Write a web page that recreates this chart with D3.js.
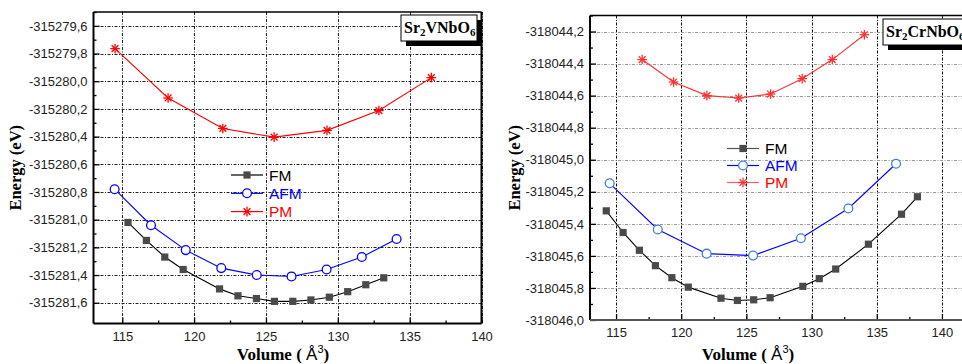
<!DOCTYPE html>
<html>
<head>
<meta charset="utf-8">
<script src="https://cdn.jsdelivr.net/npm/d3@7"></script>
<style>
  body { margin: 0; background: #fff; }
  svg { display: block; }
  .tick text { font-family: "Liberation Sans", Arial, sans-serif; font-size: 13px; fill: #222; }
</style>
</head>
<body>
<div id="chart"></div>
<script>
// ---- data ----
let volFM_L = [115.40, 116.68, 117.96, 119.24, 121.77, 123.05, 124.34, 125.59, 126.87, 128.13, 129.41, 130.69, 131.95, 133.20];
let eFM_L = [-315281.02, -315281.15, -315281.27, -315281.36, -315281.50, -315281.55, -315281.57, -315281.59, -315281.59, -315281.58, -315281.56, -315281.52, -315281.47, -315281.42];
let volAFM_L = [114.47, 117.00, 119.42, 121.89, 124.36, 126.78, 129.22, 131.67, 134.09];
let eAFM_L = [-315280.78, -315281.04, -315281.22, -315281.35, -315281.40, -315281.41, -315281.36, -315281.27, -315281.14];
let volPM_L = [114.50, 118.19, 122.00, 125.57, 129.25, 132.86, 136.51];
let ePM_L = [-315279.765, -315280.121, -315280.341, -315280.404, -315280.355, -315280.212, -315279.974];

let volFM_R = [114.25, 115.54, 116.79, 118.02, 119.28, 120.54, 123.05, 124.31, 125.56, 126.82, 129.33, 130.59, 131.85, 134.36, 136.90, 138.12];
let eFM_R = [-318045.319, -318045.454, -318045.565, -318045.661, -318045.736, -318045.795, -318045.864, -318045.878, -318045.874, -318045.861, -318045.790, -318045.742, -318045.682, -318045.527, -318045.340, -318045.231];
let volAFM_R = [114.51, 118.20, 121.95, 125.51, 129.18, 132.82, 136.48];
let eAFM_R = [-318045.147, -318045.435, -318045.586, -318045.598, -318045.490, -318045.304, -318045.025];
let volPM_R = [117.00, 119.41, 121.97, 124.41, 126.85, 129.28, 131.59, 134.05];
let ePM_R = [-318044.375, -318044.515, -318044.600, -318044.615, -318044.590, -318044.494, -318044.375, -318044.220];

let seriesNames = ["FM", "AFM", "PM"];
let xTicks = [115, 120, 125, 130, 135, 140];
let xMinor = [117.5, 122.5, 127.5, 132.5, 137.5];
let yTicksL = [-315281.6, -315281.4, -315281.2, -315281.0, -315280.8, -315280.6, -315280.4, -315280.2, -315280.0, -315279.8, -315279.6];
let yTicksR = [-318046.0, -318045.8, -318045.6, -318045.4, -318045.2, -318045.0, -318044.8, -318044.6, -318044.4, -318044.2];

let comma = d3.formatLocale({decimal: ",", thousands: "", grouping: [3], currency: ["", ""], minus: "-"}).format(".1f");

let svg = d3.select('#chart')
    .append('svg')
    .attr('width', 962)
    .attr('height', 364);

function asterisk(g, cx, cy, r, color) {
    [0, 45, 90, 135].forEach(function (a) {
        let rad = a * Math.PI / 180;
        g.append('line')
            .attr('x1', cx - r * Math.cos(rad)).attr('y1', cy - r * Math.sin(rad))
            .attr('x2', cx + r * Math.cos(rad)).attr('y2', cy + r * Math.sin(rad))
            .attr('stroke', color).attr('stroke-width', 1.3);
    });
}

function marker(g, kind, cx, cy, c) {
    if (kind == "FM") {
        g.append('rect')
            .attr('x', cx - 3.6).attr('y', cy - 3.6)
            .attr('width', 7.2).attr('height', 7.2)
            .attr('fill', '#4a4a4a');
    } else if (kind == "AFM") {
        g.append('circle')
            .attr('cx', cx).attr('cy', cy).attr('r', 4.4)
            .attr('fill', '#fff')
            .attr('stroke', c.afmMark).attr('stroke-width', 1.3);
    } else {
        asterisk(g, cx, cy, 4.8, c.pm);
    }
}

function drawPanel(p) {
    let g = svg.append('g');
    let x = d3.scaleLinear().domain(p.xDom).range([p.left, p.right]);
    let y = d3.scaleLinear().domain(p.yDom).range([p.bottom, p.top]);

    // grid
    g.selectAll('.vg').data(xTicks).enter().append('line')
        .attr('x1', d => Math.round(x(d)) + 0.5).attr('x2', d => Math.round(x(d)) + 0.5)
        .attr('y1', p.top).attr('y2', p.bottom)
        .attr('stroke', p.vGrid).attr('stroke-width', 1)
        .attr('stroke-dasharray', '3,1.5,1,1.5');
    g.selectAll('.hg').data(p.yTicks).enter().append('line')
        .attr('x1', p.left).attr('x2', p.right)
        .attr('y1', d => Math.round(y(d)) + 0.5).attr('y2', d => Math.round(y(d)) + 0.5)
        .attr('stroke', p.hGrid).attr('stroke-width', 1)
        .attr('stroke-dasharray', '3,1.5,1,1.5');

    // axes, ticks pointing inward
    g.append('g').attr('transform', 'translate(0,' + p.bottom + ')')
        .call(d3.axisBottom(x).tickValues(xTicks).tickFormat(d3.format('d')).tickSize(-6).tickPadding(8));
    g.append('g').attr('transform', 'translate(0,' + p.bottom + ')')
        .call(d3.axisBottom(x).tickValues(xMinor).tickFormat('').tickSize(-3));
    g.append('g').attr('transform', 'translate(' + p.left + ',0)')
        .call(d3.axisLeft(y).tickValues(p.yTicks).tickFormat(comma).tickSize(-6).tickPadding(6));
    g.append('g').attr('transform', 'translate(' + p.left + ',0)')
        .call(d3.axisLeft(y).tickValues(p.yTicks.map(d => d + 0.1)).tickFormat('').tickSize(-3));
    g.selectAll('.domain').remove();
    g.selectAll('.tick line').attr('stroke', '#000').attr('stroke-width', 1.3);

    // frame
    g.append('line').attr('x1', p.left).attr('x2', p.right).attr('y1', p.top).attr('y2', p.top)
        .attr('stroke', '#000').attr('stroke-width', 1.3);
    g.append('line').attr('x1', p.left).attr('x2', p.left).attr('y1', p.top).attr('y2', p.bottom)
        .attr('stroke', '#000').attr('stroke-width', 2);
    g.append('line').attr('x1', p.left).attr('x2', p.right).attr('y1', p.bottom).attr('y2', p.bottom)
        .attr('stroke', p.bottomAxis).attr('stroke-width', 2);
    if (p.rightBorder) {
        g.append('line').attr('x1', p.right).attr('x2', p.right).attr('y1', p.top).attr('y2', p.bottom)
            .attr('stroke', '#000').attr('stroke-width', 2);
    }

    // series
    let line = d3.line().x(d => x(d[0])).y(d => y(d[1]));
    let series = [
        {name: "FM", v: p.fm[0], e: p.fm[1], col: '#000'},
        {name: "AFM", v: p.afm[0], e: p.afm[1], col: p.afmLine},
        {name: "PM", v: p.pm[0], e: p.pm[1], col: p.pm_c}
    ];
    series.forEach(function (s) {
        let pts = s.v.map((d, i) => [d, s.e[i]]);
        g.append('path').attr('d', line(pts))
            .attr('fill', 'none').attr('stroke', s.col).attr('stroke-width', 1.1);
        pts.forEach(function (d) {
            marker(g, s.name, x(d[0]), y(d[1]), {afmMark: p.afmMark, pm: p.pm_c});
        });
    });

    // legend
    let legCols = ['#000', '#0000ff', '#ff0000'];
    let legLine = [p.legFM, p.afmLine, p.legPM];
    seriesNames.forEach(function (n, i) {
        let ly = p.legY + i * p.legStep;
        g.append('line').attr('x1', p.legX).attr('x2', p.legX + 32).attr('y1', ly).attr('y2', ly)
            .attr('stroke', legLine[i]).attr('stroke-width', 1.2);
        marker(g, n, p.legX + 16, ly, {afmMark: p.afmMark, pm: p.pm_c});
        g.append('text').attr('x', p.legX + 38).attr('y', ly + 5.5)
            .style('font-family', '"Liberation Sans", Arial, sans-serif')
            .style('font-size', '15.5px')
            .attr('fill', legCols[i]).text(n);
    });

    // compound title box with shadow
    g.append('rect').attr('x', p.boxX + 5).attr('y', p.boxY + 5).attr('width', p.boxW).attr('height', 26).attr('fill', '#000');
    g.append('rect').attr('x', p.boxX).attr('y', p.boxY).attr('width', p.boxW).attr('height', 26)
        .attr('fill', '#fff').attr('stroke', '#000').attr('stroke-width', 1);
    let t = g.append('text').attr('x', p.boxX + 3).attr('y', p.boxY + 18)
        .style('font-family', '"Liberation Serif", "Times New Roman", serif')
        .style('font-weight', 'bold').style('font-size', '16px');
    p.title.forEach(function (part) {
        let ts = t.append('tspan').text(part[0]);
        if (part[1]) ts.attr('dy', 3).style('font-size', '11px');
        else ts.attr('dy', part[2] ? -3 : 0);
    });

    // axis titles
    g.append('text')
        .attr('transform', 'translate(' + p.yLabX + ',' + ((p.top + p.bottom) / 2) + ') rotate(-90)')
        .attr('text-anchor', 'middle')
        .style('font-family', '"Liberation Serif", "Times New Roman", serif')
        .style('font-weight', 'bold').style('font-size', '16.5px')
        .text('Energy (eV)');
    let xl = g.append('text').attr('x', p.xLabX).attr('y', 360).attr('text-anchor', 'middle')
        .style('font-family', '"Liberation Serif", "Times New Roman", serif')
        .style('font-weight', 'bold').style('font-size', '17px');
    xl.append('tspan').text('Volume ( ');
    xl.append('tspan').style('font-family', '"Liberation Sans", Arial, sans-serif').style('font-weight', 'normal').text('Å');
    xl.append('tspan').attr('dy', -7).style('font-family', '"Liberation Sans", Arial, sans-serif')
        .style('font-weight', 'normal').style('font-size', '11px').text('3');
    xl.append('tspan').attr('dy', 7).text(')');
}

drawPanel({
    left: 93.5, right: 481.5, top: 12, bottom: 323.5,
    xDom: [113, 140], yDom: [-315281.75, -315279.5], yTicks: yTicksL,
    vGrid: '#222', hGrid: '#222', bottomAxis: '#000', rightBorder: true,
    fm: [volFM_L, eFM_L], afm: [volAFM_L, eAFM_L], pm: [volPM_L, ePM_L],
    afmLine: '#0000ff', afmMark: '#0000ff', pm_c: '#ff0000', legFM: '#000', legPM: '#ff0000',
    legX: 231, legY: 175, legStep: 18.3,
    boxX: 401, boxY: 15, boxW: 76,
    title: [['Sr', false], ['2', true], ['VNbO', false, true], ['6', true]],
    yLabX: 21, xLabX: 283
});

drawPanel({
    left: 590, right: 968, top: 15.5, bottom: 320,
    xDom: [113, 142], yDom: [-318046.0, -318044.1], yTicks: yTicksR,
    vGrid: '#111', hGrid: '#999', bottomAxis: '#555', rightBorder: false,
    fm: [volFM_R, eFM_R], afm: [volAFM_R, eAFM_R], pm: [volPM_R, ePM_R],
    afmLine: '#0000ff', afmMark: '#3d7ee0', pm_c: '#ff3030', legFM: '#555', legPM: '#ff6060',
    legX: 727, legY: 148.5, legStep: 17,
    boxX: 883, boxY: 19, boxW: 90,
    title: [['Sr', false], ['2', true], ['CrNbO', false, true], ['6', true]],
    yLabX: 520, xLabX: 748
});
</script>
</body>
</html>
